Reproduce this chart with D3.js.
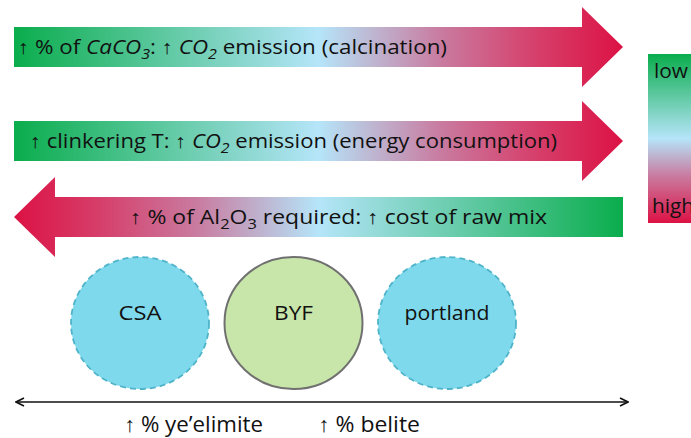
<!DOCTYPE html>
<html><head><meta charset="utf-8">
<script src="https://cdn.jsdelivr.net/npm/d3@7"></script>
<style>body{margin:0;background:#fff}svg{display:block}text{font-family:"Comic Sans MS","Open Sans",sans-serif;fill:#111}</style>
</head><body><svg id="c" width="691" height="438"></svg>
<script>
// ---- data ----
const arrowNames = ["calcination", "energy", "alumina"];
const arrowDirections = ["right", "right", "left"];
const arrowTexts = [
  [["↑ % of ", ""], ["CaCO", "i"], ["3", "si"], [": ↑ ", ""], ["CO", "i"], ["2", "si"], [" emission (calcination)", ""]],
  [["↑ clinkering T: ↑ ", ""], ["CO", "i"], ["2", "si"], [" emission (energy consumption)", ""]],
  [["↑ % of Al", ""], ["2", "s"], ["O", ""], ["3", "s"], [" required: ↑ cost of raw mix", ""]]
];
const cements = ["CSA", "BYF", "portland"];
const cementKinds = ["dashed", "solid", "dashed"];
const axisLabels = ["↑ % ye’elimite", "↑ % belite"];
const legendLabels = ["low", "high"];

// ---- layout (not data) ----
const arrowCY = {calcination: 47, energy: 141, alumina: 217};
const arrowTextX = {calcination: 18, energy: 30, alumina: 130};
const arrowTextW = {calcination: 429, energy: 527, alumina: 417};
const cementTextW = {CSA: 43, BYF: 39, portland: 85};
const axisTextW = [139, 102];

const svg = d3.select("#c");
const defs = svg.append("defs");

function grad(id, stops, x1, y1, x2, y2) {
  const g = defs.append("linearGradient").attr("id", id)
    .attr("x1", x1).attr("y1", y1).attr("x2", x2).attr("y2", y2);
  stops.forEach(s => g.append("stop").attr("offset", s[0]).attr("stop-color", s[1]));
}
const gStops = [[0, "#0aad4c"], [0.5, "#b5e5f9"], [0.7, "#c97ba0"], [0.86, "#d63e6a"], [1, "#dc1244"]];
grad("gR", gStops, 0, 0, 1, 0);
grad("gL", gStops, 1, 0, 0, 0);
grad("gV", [[0, "#0aad4c"], [0.5, "#b5e5f9"], [0.72, "#c97ba0"], [1, "#dc1244"]], 0, 0, 0, 1);

const xSpan = d3.scaleLinear().domain([0, 1]).range([14, 623]);

arrowNames.forEach((n, i) => {
  const cy = arrowCY[n], h = 80, y0 = cy - h / 2;
  const bh = 40, x0 = xSpan(0), x1 = xSpan(1), head = 41;
  let pts;
  if (arrowDirections[i] === "right") {
    pts = [[x0, cy - bh / 2], [x1 - head, cy - bh / 2], [x1 - head, y0], [x1, cy], [x1 - head, y0 + h],
           [x1 - head, cy + bh / 2], [x0, cy + bh / 2]];
  } else {
    pts = [[x1, cy - bh / 2], [x0 + head, cy - bh / 2], [x0 + head, y0], [x0, cy], [x0 + head, y0 + h],
           [x0 + head, cy + bh / 2], [x1, cy + bh / 2]];
  }
  svg.append("path").attr("d", d3.line()(pts) + "Z")
    .attr("fill", arrowDirections[i] === "right" ? "url(#gR)" : "url(#gL)");
  const t = svg.append("text").attr("x", arrowTextX[n]).attr("y", cy + 7).attr("font-size", 19.5)
    .attr("textLength", arrowTextW[n]).attr("lengthAdjust", "spacingAndGlyphs");
  const parts = arrowTexts[i];
  parts.forEach((p, k) => {
    const ts = t.append("tspan").text(p[0]);
    if (p[1].includes("i")) ts.attr("font-style", "italic");
    if (p[1].includes("s")) ts.attr("font-size", 14).attr("dy", 5);
    else if (k > 0 && parts[k - 1][1].includes("s")) ts.attr("dy", -5);
  });
});

// legend
svg.append("rect").attr("x", 648).attr("y", 54).attr("width", 60).attr("height", 169).attr("fill", "url(#gV)");
svg.append("text").attr("x", 654).attr("y", 78).attr("font-size", 19.5)
  .attr("textLength", 34).attr("lengthAdjust", "spacingAndGlyphs").text(legendLabels[0]);
svg.append("text").attr("x", 652).attr("y", 213).attr("font-size", 19.5)
  .attr("textLength", 42).attr("lengthAdjust", "spacingAndGlyphs").text(legendLabels[1]);

// cement circles
const xc = d3.scalePoint().domain(cements).range([140, 447]);
cements.forEach((c, i) => {
  const dashed = cementKinds[i] === "dashed";
  svg.append("ellipse").attr("cx", xc(c)).attr("cy", 323).attr("rx", 69).attr("ry", 66)
    .attr("fill", dashed ? "#7fd9ec" : "#c8e6a9")
    .attr("stroke", dashed ? "#4fb4c9" : "#707070")
    .attr("stroke-width", dashed ? 1.8 : 2)
    .attr("stroke-dasharray", dashed ? "6,4" : null);
  svg.append("text").attr("x", xc(c) - cementTextW[c] / 2).attr("y", 320)
    .attr("font-size", 19.5).attr("textLength", cementTextW[c]).attr("lengthAdjust", "spacingAndGlyphs").text(c);
});

// double arrow
defs.append("marker").attr("id", "ah").attr("viewBox", "0 0 10 10").attr("refX", 9).attr("refY", 5)
  .attr("markerWidth", 10).attr("markerHeight", 10).attr("markerUnits", "userSpaceOnUse").attr("orient", "auto-start-reverse")
  .append("path").attr("d", "M1,1 L9,5 L1,9").attr("fill", "none").attr("stroke", "#111").attr("stroke-width", 1.6);
svg.append("line").attr("x1", 16).attr("x2", 628).attr("y1", 402).attr("y2", 402)
  .attr("stroke", "#111").attr("stroke-width", 1.6)
  .attr("marker-start", "url(#ah)").attr("marker-end", "url(#ah)");
const xl = d3.scalePoint().domain(axisLabels).range([124, 318]);
axisLabels.forEach((l, k) => svg.append("text").attr("x", xl(l)).attr("y", 432).attr("font-size", 21)
  .attr("textLength", axisTextW[k]).attr("lengthAdjust", "spacingAndGlyphs").text(l));
</script></body></html>
